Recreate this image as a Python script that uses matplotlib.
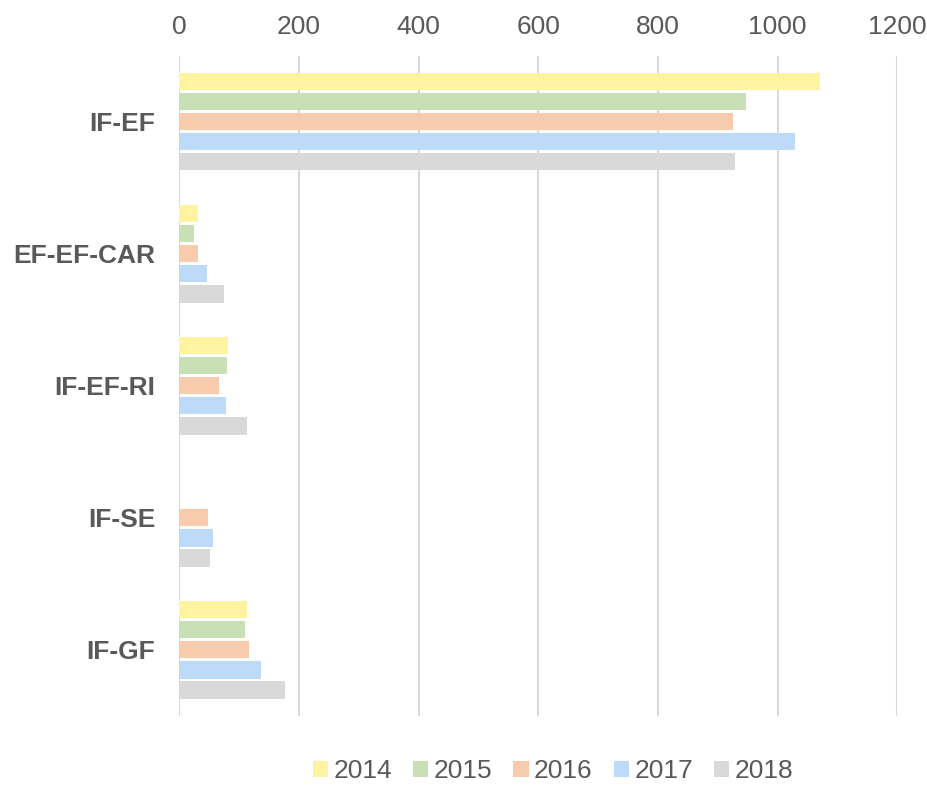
import numpy as np
import matplotlib.pyplot as plt

plt.rcParams['font.family'] = ['Liberation Sans', 'DejaVu Sans']

categories = ['IF-EF', 'EF-EF-CAR', 'IF-EF-RI', 'IF-SE', 'IF-GF']
years = ['2014', '2015', '2016', '2017', '2018']
v2014 = [1071, 31, 82, 0, 113]
v2015 = [947, 25, 80, 0, 110]
v2016 = [925, 31, 66, 48, 117]
v2017 = [1029, 46, 78, 57, 137]
v2018 = [929, 75, 114, 51, 177]
series = [v2014, v2015, v2016, v2017, v2018]
colors = ['#FFF2A1', '#C8E0B4', '#F8CBAD', '#BDDBF8', '#D9D9D9']

fig = plt.figure(figsize=(9.28, 7.85), dpi=100)
ax = fig.add_axes([0.193, 0.088, 0.774, 0.841])

y = np.arange(len(categories))
pitch = 0.152
h = 0.13
for i, (vals, c, lab) in enumerate(zip(series, colors, years)):
    ax.barh(y + (i - 2) * pitch, vals, height=h, color=c, label=lab,
            linewidth=0, zorder=3)

ax.set_xlim(0, 1200)
ax.set_ylim(len(categories) - 0.5, -0.5)
ax.set_xticks(range(0, 1201, 200))
ax.set_yticks(y)
ax.set_yticklabels(categories, fontsize=19, fontweight='bold', color='#595959')
ax.xaxis.tick_top()
ax.tick_params(axis='x', length=0, labelsize=19, labelcolor='#595959', pad=12)
ax.tick_params(axis='y', length=0, pad=17)
for s in ax.spines.values():
    s.set_visible(False)
ax.grid(axis='x', color='#D9D9D9', linewidth=1.5, zorder=0)

fig.legend(loc='lower center', bbox_to_anchor=(0.596, -0.028), ncol=5, frameon=False,
           fontsize=19, labelcolor='#595959', handlelength=0.58, handleheight=0.58,
           handletextpad=0.2, columnspacing=0.8)

fig.savefig('out.png', dpi=100)
